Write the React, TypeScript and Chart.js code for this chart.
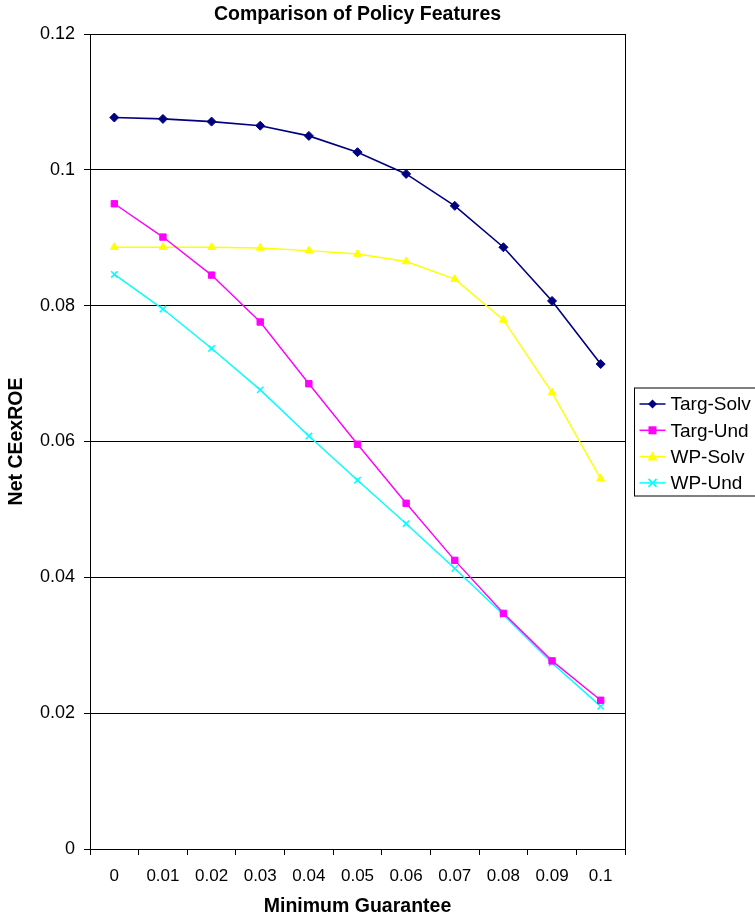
import React, { useEffect, useRef } from "react";
import { Chart, registerables } from "chart.js";

Chart.register(...registerables);

const categories = ["0", "0.01", "0.02", "0.03", "0.04", "0.05", "0.06", "0.07", "0.08", "0.09", "0.1"];
const targSolv = [0.1077, 0.1075, 0.1071, 0.1065, 0.105, 0.1026, 0.0994, 0.0947, 0.0886, 0.0807, 0.0714];
const targUnd = [0.095, 0.0901, 0.0845, 0.0776, 0.0685, 0.0596, 0.0509, 0.0425, 0.0347, 0.0277, 0.0219];
const wpSolv = [0.0886, 0.0886, 0.0886, 0.0885, 0.0881, 0.0876, 0.0865, 0.0839, 0.0779, 0.0672, 0.0545];
const wpUnd = [0.0846, 0.0795, 0.0737, 0.0676, 0.0608, 0.0543, 0.0479, 0.0413, 0.0345, 0.0274, 0.021];

const seriesNames = ["Targ-Solv", "Targ-Und", "WP-Solv", "WP-Und"];
const seriesColors = ["#000080", "#FF00FF", "#FFFF00", "#00FFFF"];
const seriesMarkers = ["rectRot", "rect", "triangle", "crossRot"];

const FONT = "'Liberation Sans', Arial, Helvetica, sans-serif";
const TITLE = "Comparison of Policy Features";

function drawMarker(ctx: CanvasRenderingContext2D, style: string, x: number, y: number, color: string) {
  ctx.save();
  ctx.fillStyle = color;
  ctx.strokeStyle = color;
  ctx.beginPath();
  if (style === "rectRot") {
    const r = 4.5;
    ctx.moveTo(x, y - r);
    ctx.lineTo(x + r, y);
    ctx.lineTo(x, y + r);
    ctx.lineTo(x - r, y);
    ctx.closePath();
    ctx.fill();
  } else if (style === "rect") {
    ctx.rect(x - 4, y - 4, 8, 8);
    ctx.fill();
  } else if (style === "triangle") {
    ctx.moveTo(x, y - 5);
    ctx.lineTo(x + 5, y + 4);
    ctx.lineTo(x - 5, y + 4);
    ctx.closePath();
    ctx.fill();
  } else {
    ctx.lineWidth = 1.5;
    ctx.moveTo(x - 4, y - 4);
    ctx.lineTo(x + 4, y + 4);
    ctx.moveTo(x + 4, y - 4);
    ctx.lineTo(x - 4, y + 4);
    ctx.stroke();
  }
  ctx.restore();
}

const decorPlugin = {
  id: "decor",
  afterDraw(chart: any) {
    const { ctx, chartArea } = chart;
    const { left, right, top, bottom } = chartArea;
    ctx.save();
    // plot frame
    ctx.strokeStyle = "#000";
    ctx.lineWidth = 1;
    ctx.strokeRect(left + 0.5, top + 0.5, right - left, bottom - top);
    // title
    ctx.fillStyle = "#000";
    ctx.font = `bold 19.5px ${FONT}`;
    ctx.textAlign = "center";
    ctx.textBaseline = "middle";
    ctx.fillText(TITLE, (left + right) / 2, 15);
    // legend
    const lx = right + 9.5;
    const ly = (top + bottom) / 2 - 54 + 0.5;
    ctx.strokeStyle = "#000";
    ctx.lineWidth = 1;
    ctx.strokeRect(lx, ly, 130, 108);
    ctx.font = `19px ${FONT}`;
    ctx.textAlign = "left";
    for (let i = 0; i < seriesNames.length; i++) {
      const y = ly + 16 + i * 26.3;
      ctx.strokeStyle = seriesColors[i];
      ctx.lineWidth = 1.5;
      ctx.beginPath();
      ctx.moveTo(lx + 5, y);
      ctx.lineTo(lx + 31, y);
      ctx.stroke();
      drawMarker(ctx, seriesMarkers[i], lx + 18, y, seriesColors[i]);
      ctx.fillStyle = "#000";
      ctx.fillText(seriesNames[i], lx + 36, y + 1);
    }
    ctx.restore();
  },
};

export default function App() {
  const ref = useRef<HTMLCanvasElement | null>(null);
  useEffect(() => {
    if (!ref.current) return;
    const data = [targSolv, targUnd, wpSolv, wpUnd];
    const chart = new Chart(ref.current, {
      type: "line",
      data: {
        labels: categories,
        datasets: data.map((d, i) => ({
          label: seriesNames[i],
          data: d,
          borderColor: seriesColors[i],
          backgroundColor: seriesColors[i],
          pointStyle: seriesMarkers[i] as any,
          pointRadius: 4.5,
          pointBorderWidth: i === 3 ? 1.5 : 1,
          pointBackgroundColor: seriesColors[i],
          pointBorderColor: seriesColors[i],
          borderWidth: i === 0 ? 1.6 : 1.4,
          tension: 0,
          fill: false,
        })),
      },
      options: {
        animation: false,
        responsive: true,
        maintainAspectRatio: false,
        layout: { padding: { top: 34, right: 130, bottom: 0, left: 0 } },
        plugins: {
          legend: { display: false },
          title: { display: false },
          tooltip: { enabled: false },
        },
        scales: {
          x: {
            type: "category",
            offset: true,
            afterFit: (s: any) => {
              s.height = 68;
            },
            grid: {
              offset: true,
              drawOnChartArea: false,
              drawTicks: true,
              tickLength: 6,
              color: "#000",
            },
            border: { color: "#000", width: 1 },
            ticks: {
              color: "#000",
              font: { family: FONT, size: 17 },
              padding: 11,
              maxRotation: 0,
              autoSkip: false,
            },
            title: {
              display: true,
              text: "Minimum Guarantee",
              color: "#000",
              font: { family: FONT, size: 19.5, weight: "bold", lineHeight: 1 },
              padding: { top: 4, bottom: 1 },
            },
          },
          y: {
            min: 0,
            max: 0.12,
            afterFit: (s: any) => {
              s.width = 90;
            },
            grid: {
              color: "#000",
              lineWidth: 1,
              drawTicks: true,
              tickLength: 6,
            },
            border: { color: "#000", width: 1 },
            ticks: {
              stepSize: 0.02,
              color: "#000",
              font: { family: FONT, size: 18 },
              padding: 9,
              callback: (v: any) => String(Number(Number(v).toFixed(2))),
            },
            title: {
              display: true,
              text: "Net CEexROE",
              color: "#000",
              font: { family: FONT, size: 19.5, weight: "bold", lineHeight: 1 },
              padding: { top: 7, bottom: 4 },
            },
          },
        },
      },
      plugins: [decorPlugin],
    });
    return () => chart.destroy();
  }, []);
  return (
    <div style={{ position: "fixed", left: 0, top: 0, width: 755, height: 917, background: "#fff" }}>
      <canvas ref={ref} />
    </div>
  );
}
